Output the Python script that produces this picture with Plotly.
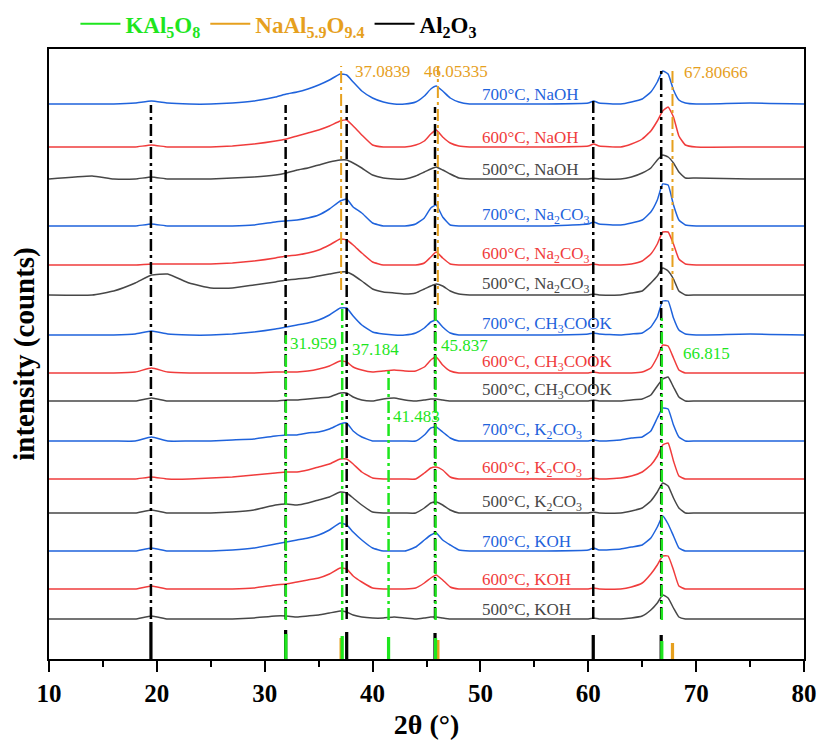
import plotly.graph_objects as go

# 2θ sampling points shared by every pattern (degrees)
two_theta = [10, 14, 16, 18, 19.5, 21, 23, 25, 27, 29,
             31, 32, 33, 34, 35, 36, 37, 37.6, 38.2, 39,
             40, 41, 42, 43, 44, 44.8, 45.4, 45.9, 46.5, 47.2,
             48, 49, 52, 56, 60, 60.5, 61, 63, 64, 65,
             65.8, 66.4, 66.9, 67.4, 67.9, 68.4, 69, 70, 75, 80]

# intensities above each pattern's own baseline (counts, arbitrary scale)
naoh_700 = [0, 0, 0, 1, 3, 1, 0, 0, 1, 3, 7, 10, 12, 15, 19, 24, 30, 29, 22, 13,
            6, 2, 0, 0, 2, 8, 15, 18, 13, 6, 2, 0, 0, 0, 1, 3, 1, 0, 2, 5,
            12, 22, 33, 30, 14, 4, 1, 0, 1, 0]
naoh_600 = [0, 0, 0, 0, 2, 0, 0, 0, 1, 3, 6, 8, 11, 14, 17, 21, 26, 27, 21, 12,
            2, 0, 0, 0, 2, 6, 13, 17, 10, 4, 1, 0, 0, 0, 1, 3, 1, 0, 3, 8,
            16, 26, 36, 40, 30, 11, 2, 0, 0, 0]
naoh_500 = [0, 3, 0, 0, 2, 0, 0, 0, 1, 2, 4, 6, 9, 11, 14, 17, 19, 19, 16, 11,
            4, 1, 0, 0, 3, 7, 10, 12, 9, 5, 1, 0, 0, 0, 0, 1, 0, 0, 2, 6,
            11, 19, 24, 22, 16, 7, 1, 1, 0, 0]
na2co3_700 = [0, 0, 0, 0, 2, 0, 0, 0, 0, 1, 4, 5, 6, 8, 11, 17, 25, 27, 19, 13,
              3, 0, 0, 0, 2, 8, 18, 21, 9, 1, 0, 0, 0, 0, 2, 4, 2, 1, 3, 6,
              14, 26, 42, 41, 21, 6, 1, 0, 0, 0]
na2co3_600 = [0, 0, 0, 0, 1, 1, 1, 1, 2, 4, 7, 9, 10, 12, 15, 20, 26, 25, 20, 12,
              3, 0, 0, 0, 0, 2, 8, 13, 7, 1, 0, 0, 0, 0, 0, 1, 0, 0, 1, 4,
              11, 21, 33, 33, 21, 6, 1, 0, 0, 0]
na2co3_500 = [0, 0, 4, 12, 20, 21, 12, 7, 7, 10, 13, 15, 16, 17, 19, 21, 23, 23, 20, 14,
              6, 3, 2, 1, 2, 6, 9, 11, 9, 4, 1, 0, 0, 0, 0, 1, 0, 0, 2, 4,
              12, 19, 27, 24, 16, 4, 0, 0, 0, 0]
ch3cook_700 = [0, 0, 0, 1, 4, 1, 0, 0, 1, 3, 6, 8, 10, 12, 15, 20, 27, 27, 19, 10,
               3, 1, 0, 0, 2, 7, 13, 15, 8, 2, 0, 0, 0, 0, 1, 2, 1, 0, 1, 2,
               8, 18, 34, 34, 17, 5, 1, 0, 1, 0]
ch3cook_600 = [0, 0, 0, 1, 5, 1, 0, 0, 0, 0, 1, 1, 1, 2, 4, 7, 12, 11, 6, 3,
               1, 2, 3, 2, 2, 6, 13, 16, 8, 2, 0, 0, 0, 0, 0, 1, 0, 0, 0, 1,
               5, 16, 28, 27, 15, 3, 0, 0, 0, 0]
ch3cook_500 = [0, 0, 0, 0, 3, 0, 0, 0, 0, 0, 0, 1, 1, 2, 3, 4, 8, 8, 4, 1,
               0, 2, 3, 1, 0, 1, 2, 2, 1, 0, 0, 0, 0, 0, 0, 1, 0, 0, 1, 2,
               6, 15, 22, 24, 14, 4, 0, 0, 0, 0]
k2co3_700 = [0, 0, 0, 0, 4, 0, 0, 0, 1, 2, 5, 6, 6, 8, 9, 12, 17, 18, 10, 4,
             0, 0, 0, 0, 0, 6, 13, 14, 9, 3, 0, 0, 0, 0, 0, 1, 0, 1, 3, 4,
             10, 23, 33, 32, 16, 4, 0, 0, 0, 0]
k2co3_600 = [0, 0, 0, 0, 2, 0, 0, 1, 2, 4, 6, 7, 7, 9, 12, 15, 20, 20, 15, 7,
             1, 0, 0, 0, 0, 6, 11, 12, 9, 2, 0, 0, 0, 0, 0, 1, 0, 1, 3, 7,
             14, 23, 34, 36, 18, 3, 0, 0, 0, 0]
k2co3_500 = [0, 0, 0, 0, 3, 0, 0, 0, 1, 3, 8, 9, 8, 10, 13, 16, 21, 20, 15, 8,
             1, 0, 0, 0, 0, 5, 10, 11, 8, 3, 0, 0, 0, 0, 0, 1, 0, 0, 2, 5,
             12, 21, 30, 27, 15, 5, 0, 0, 0, 0]
koh_700 = [0, 0, 0, 0, 3, 0, 0, 0, 1, 3, 7, 9, 11, 13, 16, 21, 28, 26, 19, 11,
           3, 0, 0, 0, 4, 11, 16, 18, 11, 6, 1, 0, 0, 0, 1, 3, 1, 2, 4, 6,
           13, 24, 35, 27, 15, 3, 0, 0, 0, 0]
koh_600 = [0, 0, 0, 0, 3, 0, 0, 0, 0, 1, 4, 5, 7, 9, 11, 15, 21, 20, 13, 7,
           1, 0, 0, 0, 1, 6, 11, 14, 9, 2, 0, 0, 0, 0, 0, 1, 0, 0, 2, 6,
           15, 24, 33, 33, 19, 3, 0, 0, 0, 0]
koh_500 = [0, 0, 0, 0, 3, 0, 0, 0, 0, 1, 3, 3, 2, 3, 4, 6, 8, 7, 4, 2,
           1, 1, 2, 1, 0, 1, 2, 2, 1, 0, 0, 0, 0, 0, 0, 1, 0, 0, 1, 3,
           9, 16, 24, 21, 11, 2, 0, 0, 0, 0]

# pattern order from top to bottom, with stacking offsets
pattern_names = ["700°C, NaOH", "600°C, NaOH", "500°C, NaOH",
                 "700°C, Na<sub>2</sub>CO<sub>3</sub>", "600°C, Na<sub>2</sub>CO<sub>3</sub>",
                 "500°C, Na<sub>2</sub>CO<sub>3</sub>",
                 "700°C, CH<sub>3</sub>COOK", "600°C, CH<sub>3</sub>COOK", "500°C, CH<sub>3</sub>COOK",
                 "700°C, K<sub>2</sub>CO<sub>3</sub>", "600°C, K<sub>2</sub>CO<sub>3</sub>",
                 "500°C, K<sub>2</sub>CO<sub>3</sub>",
                 "700°C, KOH", "600°C, KOH", "500°C, KOH"]
pattern_data = [naoh_700, naoh_600, naoh_500,
                na2co3_700, na2co3_600, na2co3_500,
                ch3cook_700, ch3cook_600, ch3cook_500,
                k2co3_700, k2co3_600, k2co3_500,
                koh_700, koh_600, koh_500]
pattern_offsets = [555, 512, 480, 433, 394, 364, 324, 286, 258,
                   218, 180, 146, 108, 70, 40]

# reference phases: peak positions and stick intensities
kal5o8_pos = [31.959, 37.184, 41.483, 45.837, 66.815]
kal5o8_int = [25, 23, 22, 21, 18]
naal_pos = [37.0839, 46.05335, 67.80666]
naal_int = [21, 19, 16]
al2o3_pos = [19.45, 31.94, 37.60, 45.79, 60.46, 66.76]
al2o3_int = [37, 29, 27, 26, 24, 24]

BLUE = "#1f63dc"
RED = "#f03c3c"
GREY = "#474747"
GREEN = "#1ee61e"
ORANGE = "#e6a01e"
BLACK = "#000000"
temp_colors = {"700": BLUE, "600": RED, "500": GREY}
SERIF = "Liberation Serif"

fig = go.Figure()

# stick patterns along the bottom
for pos, inten, col in [(al2o3_pos, al2o3_int, BLACK),
                        (naal_pos, naal_int, ORANGE),
                        (kal5o8_pos, kal5o8_int, GREEN)]:
    fig.add_trace(go.Bar(x=pos, y=inten, width=0.3, marker_color=col,
                         marker_line_width=0, showlegend=False, hoverinfo="skip"))

# stacked diffraction patterns
for name, data, off in zip(pattern_names, pattern_data, pattern_offsets):
    col = temp_colors[name[:3]]
    fig.add_trace(go.Scatter(x=two_theta, y=[v + off for v in data], mode="lines",
                             line=dict(color=col, width=1.5, shape="spline", smoothing=0.4),
                             showlegend=False, name=name))
    fig.add_annotation(x=50.0, y=off + 10, text=name, showarrow=False,
                       xanchor="left", yanchor="middle",
                       font=dict(family=SERIF, size=17, color=col))

# dash-dot marker lines for the reference phases
al2o3_top = [554, 554, 554, 552, 561, 591]
kal5o8_top = [324, 356, 292, 354, 341]
naal_top = [593, 593, 591]
naal_bottom = [369, 354, 369]
dashdot = "12px,4px,3px,4px"
for x, top in zip(al2o3_pos, al2o3_top):
    fig.add_shape(type="line", x0=x, x1=x, y0=40, y1=top, xref="x", yref="y",
                  line=dict(color=BLACK, width=2.5, dash=dashdot), layer="above")
for x, top in zip(kal5o8_pos, kal5o8_top):
    fig.add_shape(type="line", x0=x, x1=x, y0=39, y1=top, xref="x", yref="y",
                  line=dict(color=GREEN, width=2.5, dash=dashdot), layer="above")
for x, top, bot in zip(naal_pos, naal_top, naal_bottom):
    fig.add_shape(type="line", x0=x, x1=x, y0=bot, y1=top, xref="x", yref="y",
                  line=dict(color=ORANGE, width=2, dash=dashdot), layer="above")

# peak position labels
naal_label_xy = [(38.17, 588), (44.57, 588), (68.67, 587)]
for (lx, ly), v in zip(naal_label_xy, naal_pos):
    fig.add_annotation(x=lx, y=ly, text=f"{v}", showarrow=False, xanchor="left",
                       yanchor="middle", font=dict(family=SERIF, size=17, color=ORANGE))
kal_label_xy = [(32.15, 316), (37.9, 310), (41.7, 243), (46.15, 314), (68.57, 306)]
for (lx, ly), v in zip(kal_label_xy, kal5o8_pos):
    fig.add_annotation(x=lx, y=ly, text=f"{v}", showarrow=False, xanchor="left",
                       yanchor="middle", font=dict(family=SERIF, size=17, color=GREEN))

# legend entries
legend_items = [("KAl<sub>5</sub>O<sub>8</sub>", GREEN),
                ("NaAl<sub>5.9</sub>O<sub>9.4</sub>", ORANGE),
                ("Al<sub>2</sub>O<sub>3</sub>", BLACK)]
for label, col in legend_items:
    fig.add_trace(go.Scatter(x=[None], y=[None], mode="lines",
                             line=dict(color=col, width=2),
                             name=f"<span style='color:{col}'><b>{label}</b></span>"))

fig.update_layout(
    width=819, height=744,
    margin=dict(l=49, r=15, t=49, b=85),
    paper_bgcolor="white", plot_bgcolor="white",
    barmode="overlay",
    font=dict(family=SERIF, color="black"),
    showlegend=True,
    legend=dict(orientation="h", x=0.035, xanchor="left",
                yref="container", y=0.968, yanchor="middle",
                font=dict(family=SERIF, size=23), bgcolor="rgba(0,0,0,0)",
                itemwidth=40, traceorder="normal"),
    xaxis=dict(range=[10, 80], dtick=10, tick0=10, ticks="outside", ticklen=11,
               tickwidth=2, tickcolor="black", showline=True, linewidth=2,
               linecolor="black", mirror=True, showgrid=False, zeroline=False,
               automargin=False,
               tickfont=dict(family=SERIF, size=25, weight="bold"),
               minor=dict(dtick=5, ticks="outside", ticklen=6, tickwidth=2,
                          tickcolor="black", showgrid=False),
               title=dict(text="2θ (°)", standoff=8,
                          font=dict(family=SERIF, size=28, weight="bold"))),
    yaxis=dict(range=[0, 610], showticklabels=False, ticks="", showline=True,
               linewidth=2, linecolor="black", mirror=True, showgrid=False,
               zeroline=False, automargin=False,
               title=dict(text="intensity (counts)", standoff=4,
                          font=dict(family=SERIF, size=29, weight="bold"))),
)

fig.write_html("out.html")
